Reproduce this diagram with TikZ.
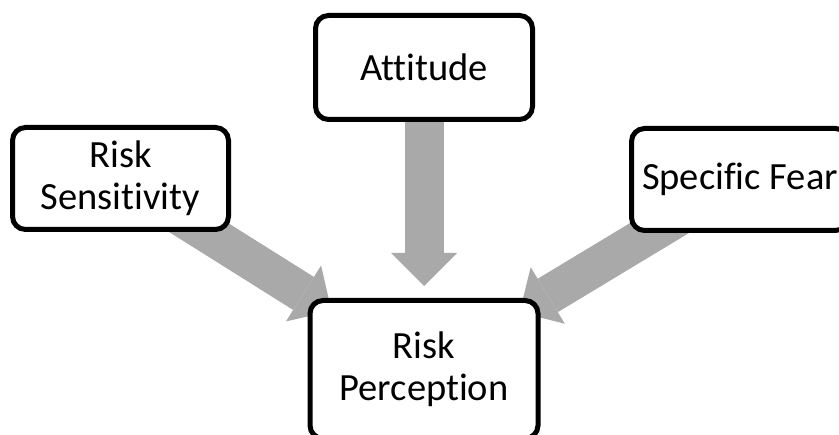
\documentclass[tikz,border=0pt]{standalone}
\usepackage{fontspec}
\newfontfamily\boxfont[RawFeature={-liga;-clig}]{Carlito}
\usetikzlibrary{arrows.meta,backgrounds}
\definecolor{arrowgray}{RGB}{169,169,169}

\begin{document}
\begin{tikzpicture}[x=1pt,y=-1pt,
  factor node/.style={rectangle,rounded corners=13pt,draw,fill=white,line width=5pt,
    inner sep=0pt,align=center,font=\boxfont\fontsize{38.5}{42}\selectfont},
  big arrow/.style={draw=arrowgray,line width=39pt,
    -{Triangle[length=33pt,width=66pt,line width=0pt]}}]

  \clip (0,0) rectangle (839,435);

  \node[factor node,minimum width=217pt,minimum height=104pt] (att) at (424,67.5) {Attitude};
  \node[factor node,minimum width=216pt,minimum height=102pt] (sens) at (120.5,178.5) {Risk\\Sensitivity};
  \node[factor node,minimum width=217pt,minimum height=102pt] (fear) at (740,179.5) {Specific Fear};
  \node[factor node,minimum width=228pt,minimum height=138pt] (perc) at (424,369.5) {Risk\\Perception};

  \begin{scope}[on background layer]
    \draw[big arrow] (sens.center) -- ([shift={(24,13)}]perc.north west);
    \draw[big arrow] (att.center) -- ([shift={(0,-12)}]perc.north);
    \draw[big arrow] (fear.center) -- ([shift={(-21,14.5)}]perc.north east);
  \end{scope}
\end{tikzpicture}
\end{document}
